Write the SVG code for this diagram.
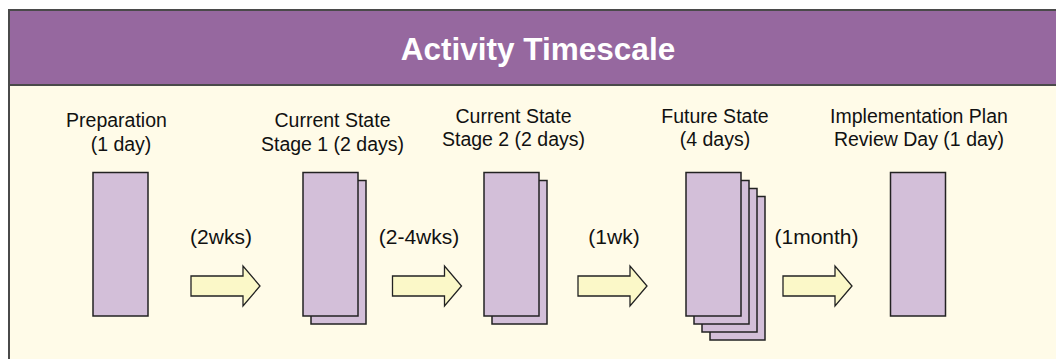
<svg xmlns="http://www.w3.org/2000/svg" width="1056" height="359" viewBox="0 0 1056 359">
<style>
  .lbl { font-family: "Liberation Sans", Arial, sans-serif; font-size: 19.5px; fill: #111; text-anchor: middle; }
  .alb { font-family: "Liberation Sans", Arial, sans-serif; font-size: 21px; fill: #111; text-anchor: middle; }
  .title { font-family: "Liberation Sans", Arial, sans-serif; font-size: 31.5px; font-weight: bold; fill: #ffffff; text-anchor: middle; }
  .page { fill: #d3bfd9; stroke: #222; stroke-width: 1.5; }
  .arrow { fill: #fbf8c8; stroke: #222; stroke-width: 1.3; stroke-linejoin: miter; }
</style>
<defs>
  <path id="blk" d="M0,0 H52 V-10 L69,10 L52,30 V20 H0 Z"/>
</defs>
<rect x="0" y="0" width="1056" height="359" fill="#ffffff"/>
<g id="panel">
  <rect x="9" y="10" width="1060" height="360" fill="#fffbe8" stroke="#4a4a4a" stroke-width="2"/>
  <rect x="9" y="10" width="1060" height="75" fill="#96689f" stroke="#4a4a4a" stroke-width="2"/>
  <text class="title" x="538" y="60">Activity Timescale</text>
</g>
<g id="node-preparation">
  <text class="lbl" x="116.5" y="126.7">Preparation</text>
  <text class="lbl" x="121" y="150.7">(1 day)</text>
  <rect class="page" x="93" y="172.5" width="55" height="143.5"/>
</g>
<g id="node-stage1">
  <text class="lbl" x="332.5" y="126.7">Current State</text>
  <text class="lbl" x="332.5" y="150.7">Stage 1 (2 days)</text>
  <rect class="page" x="311" y="180.5" width="55" height="143.5"/>
  <rect class="page" x="303" y="172.5" width="55" height="143.5"/>
</g>
<g id="node-stage2">
  <text class="lbl" x="513.5" y="122.5">Current State</text>
  <text class="lbl" x="513.5" y="146">Stage 2 (2 days)</text>
  <rect class="page" x="492" y="180.5" width="55" height="143.5"/>
  <rect class="page" x="484" y="172.5" width="55" height="143.5"/>
</g>
<g id="node-future">
  <text class="lbl" x="715" y="122.5">Future State</text>
  <text class="lbl" x="715" y="146">(4 days)</text>
  <rect class="page" x="710" y="196.5" width="55" height="143.5"/>
  <rect class="page" x="702" y="188.5" width="55" height="143.5"/>
  <rect class="page" x="694" y="180.5" width="55" height="143.5"/>
  <rect class="page" x="686" y="172.5" width="55" height="143.5"/>
</g>
<g id="node-implementation">
  <text class="lbl" x="919" y="122.5">Implementation Plan</text>
  <text class="lbl" x="919" y="146">Review Day (1 day)</text>
  <rect class="page" x="890.5" y="172.5" width="55" height="143.5"/>
</g>
<g id="connectors">
  <use href="#blk" class="arrow" x="191" y="276"/>
  <text class="alb" x="221" y="243.5">(2wks)</text>
  <use href="#blk" class="arrow" x="392.5" y="276"/>
  <text class="alb" x="419" y="243.5">(2-4wks)</text>
  <use href="#blk" class="arrow" x="578" y="276"/>
  <text class="alb" x="614" y="243.5">(1wk)</text>
  <use href="#blk" class="arrow" x="783" y="276"/>
  <text class="alb" x="816.5" y="243.5">(1month)</text>
</g>
</svg>
